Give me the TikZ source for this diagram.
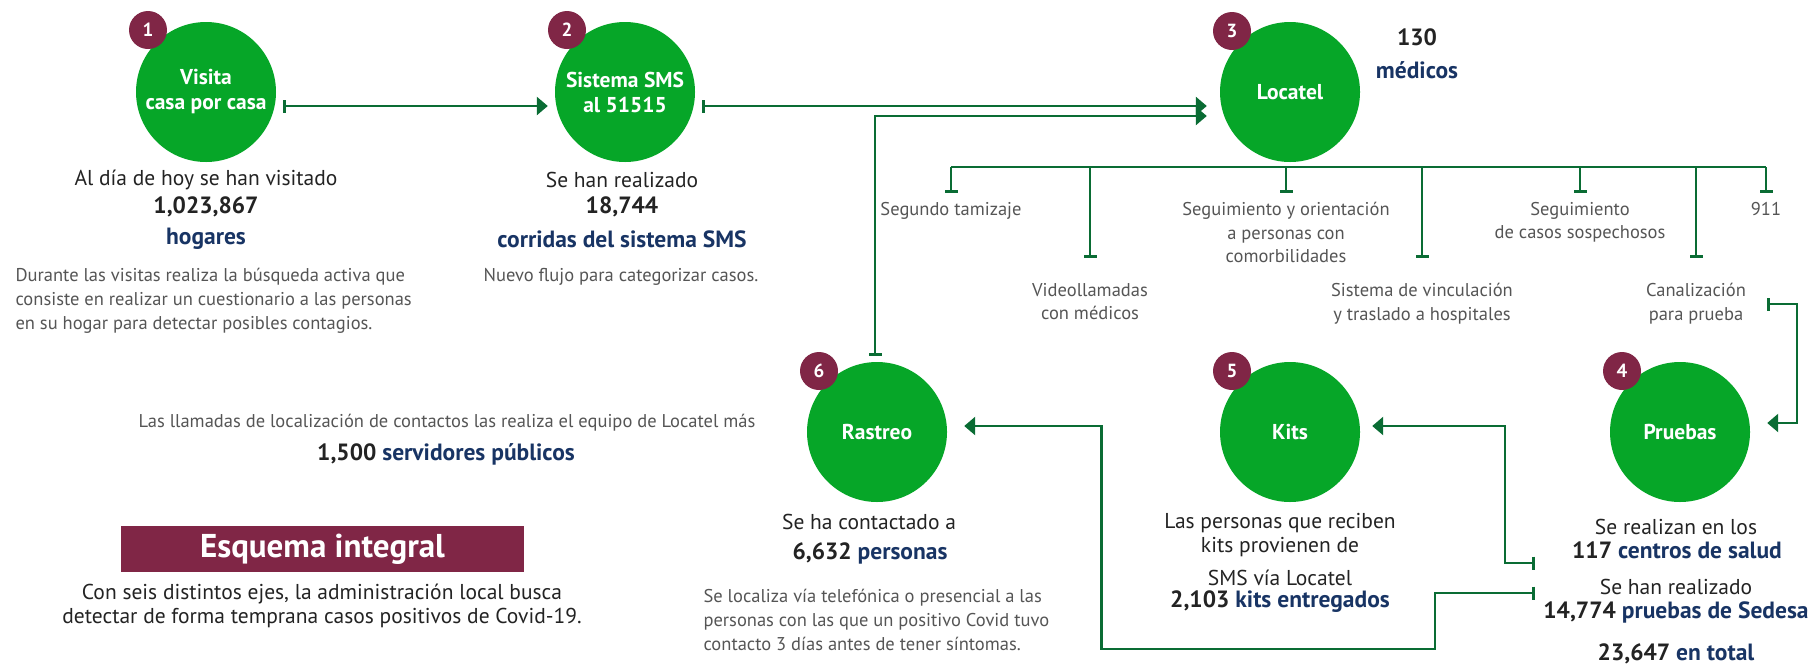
\documentclass[tikz,border=0pt]{standalone}
\usepackage{fontspec}
\setmainfont{PT Sans}
\usetikzlibrary{arrows.meta,calc,positioning}

\definecolor{verde}{RGB}{6,166,40}
\definecolor{guinda}{RGB}{128,38,70}
\definecolor{linea}{RGB}{10,108,52}
\definecolor{marino}{RGB}{24,52,100}
\definecolor{gris}{RGB}{85,85,85}
\definecolor{tinta}{RGB}{35,35,35}

\newcommand\az[1]{\textcolor{marino}{#1}}

\begin{document}
\begin{tikzpicture}[x=1pt, y=-1pt,
    eje/.style={circle, fill=verde, minimum size=140pt, inner sep=0pt, text=white,
        align=center, font=\bfseries\fontsize{21.5}{25}\selectfont},
    num/.style={circle, fill=guinda, minimum size=38pt, inner sep=0pt, text=white,
        font=\bfseries\fontsize{19}{20}\selectfont},
    dato/.style={text=tinta, align=center, font=\fontsize{21.5}{24}\selectfont},
    cifra/.style={text=tinta, align=center, font=\bfseries\fontsize{23.5}{24}\selectfont},
    nota/.style={text=gris, align=left, font=\fontsize{18.5}{24}\selectfont},
    rama/.style={text=gris, align=center, inner sep=0pt, font=\fontsize{18.5}{23.5}\selectfont},
    titulo/.style={fill=guinda, minimum width=403pt, minimum height=46pt, text=white,
        font=\bfseries\fontsize{33}{34}\selectfont},
    flujo/.style={draw=linea, line width=2.6pt, {Bar[width=13pt]}-{Triangle[length=11pt,width=18pt]}},
    tope/.style={draw=linea, line width=2.6pt, -{Bar[width=13pt]}}]
\useasboundingbox (0,0) rectangle (1814,665);

\node[eje] (c1) at (206, 92) {Visita\\casa por casa};
\node[eje] (c2) at (625, 92) {Sistema SMS\\al 51515};
\node[eje] (c3) at (1290, 92) {Locatel};
\node[eje] (c4) at (1680, 432) {Pruebas};
\node[eje] (c5) at (1290, 432) {Kits};
\node[eje] (c6) at (877, 432) {Rastreo};

\node[num] (b1) at (148, 30) {1};
\node[num] (b2) at (567, 30) {2};
\node[num] (b3) at (1232, 31) {3};
\node[num] (b4) at (1622, 371) {4};
\node[num] (b5) at (1232, 371) {5};
\node[num] (b6) at (819, 371) {6};

\node[dato] (v1) at (206, 180) {Al día de hoy se han visitado};
\node[cifra] (v2) at (206, 207) {1,023,867};
\node[cifra] (v3) at (206, 239) {\az{hogares}};
\node[nota, anchor=west] (v4) at (12, 301) {Durante las visitas realiza la búsqueda activa que\\
    consiste en realizar un cuestionario a las personas\\en su hogar para detectar posibles contagios.};

\node[dato] (s1) at (622, 180) {Se han realizado};
\node[cifra] (s2) at (622, 207) {18,744};
\node[cifra] (s3) at (622, 239) {\az{corridas del sistema SMS}};
\node[nota] (s4) at (621, 277) {Nuevo flujo para categorizar casos.};

\node[cifra] (l1) at (1417, 37) {130};
\node[cifra] (l2) at (1417, 70) {\az{médicos}};

\coordinate (r1) at (951, 167);
\coordinate (r2) at (1090, 167);
\coordinate (r3) at (1286, 167);
\coordinate (r4) at (1422, 167);
\coordinate (r5) at (1580, 167);
\coordinate (r6) at (1696, 167);
\coordinate (r7) at (1766, 167);
\coordinate (t1) at (951, 193);
\coordinate (t2) at (1090, 258);
\coordinate (t3) at (1286, 193);
\coordinate (t4) at (1422, 258);
\coordinate (t5) at (1580, 193);
\coordinate (t6) at (1696, 258);
\coordinate (t7) at (1766, 193);

\node[rama, below=9pt of t1] (e1) {Segundo tamizaje};
\node[rama, below=25pt of t2] (e2) {Videollamadas\\con médicos};
\node[rama, below=9pt of t3] (e3) {Seguimiento y orientación\\a personas con\\comorbilidades};
\node[rama, below=25pt of t4] (e4) {Sistema de vinculación\\y traslado a hospitales};
\node[rama, below=9pt of t5] (e5) {Seguimiento\\de casos sospechosos};
\node[rama, below=25pt of t6] (e6) {Canalización\\para prueba};
\node[rama, below=9pt of t7] (e7) {911};

\node[nota] (m1) at (447, 423) {Las llamadas de localización de contactos las realiza el equipo de Locatel más};
\node[cifra] (m2) at (446, 454) {1,500 \az{servidores públicos}};

\node[titulo] (esq) at (322.5, 549) {Esquema integral};
\node[dato] (esq2) at (322, 606) {Con seis distintos ejes, la administración local busca\\
    detectar de forma temprana casos positivos de Covid-19.};

\node[dato] (x1) at (869, 522) {Se ha contactado a};
\node[cifra] (x2) at (870, 553) {6,632 \az{personas}};
\node[nota, anchor=west] (x3) at (700, 620) {Se localiza vía telefónica o presencial a las\\
    personas con las que un positivo Covid tuvo\\contacto 3 días antes de tener síntomas.};

\node[dato] (k1) at (1280, 535) {Las personas que reciben\\kits provienen de};
\node[dato] (k2) at (1280, 578) {SMS vía Locatel};
\node[cifra] (k3) at (1280, 602) {2,103 \az{kits entregados}};

\node[dato] (p1) at (1676, 527) {Se realizan en los};
\node[cifra] (p2) at (1677, 550) {117 \az{centros de salud}};
\node[dato] (p3) at (1676, 587) {Se han realizado};
\node[cifra] (p4) at (1676, 612) {14,774 \az{pruebas de Sedesa}};
\node[cifra] (p5) at (1676, 654) {23,647 \az{en total}};

\coordinate (q0) at (1767, 304);
\coordinate (q1) at (1535, 563);
\coordinate (q2) at (1535, 593);

\draw[flujo] ($(c1.east)+(7,14)$) -- ($(c2.west)+(-7,14)$);
\draw[flujo] ($(c2.east)+(7,14)$) -- ($(c3.west)+(-13,14)$);
\draw[flujo] ($(c6.north)+(-2,-6)$) |- ($(c3.west)+(-13,24)$);

\draw[linea, line width=2.6pt] (r1) -- (r7);
\draw[tope] (r1) -- (t1);
\draw[tope] (r2) -- (t2);
\draw[tope] (r3) -- (t3);
\draw[tope] (r4) -- (t4);
\draw[tope] (r5) -- (t5);
\draw[tope] (r6) -- (t6);
\draw[tope] (r7) -- (t7);

\draw[flujo] (q0) -- ++(30, 0) |- ($(c4.east)+(17,-9)$);
\draw[flujo] (q1) -- ++(-30, 0) |- ($(c5.east)+(12,-6)$);
\draw[flujo] (q2) -- ++(-100, 0) -- ++(0, 56) -| ($(c6.east)+(154,-6)$) -- ($(c6.east)+(17,-6)$);
\end{tikzpicture}
\end{document}
